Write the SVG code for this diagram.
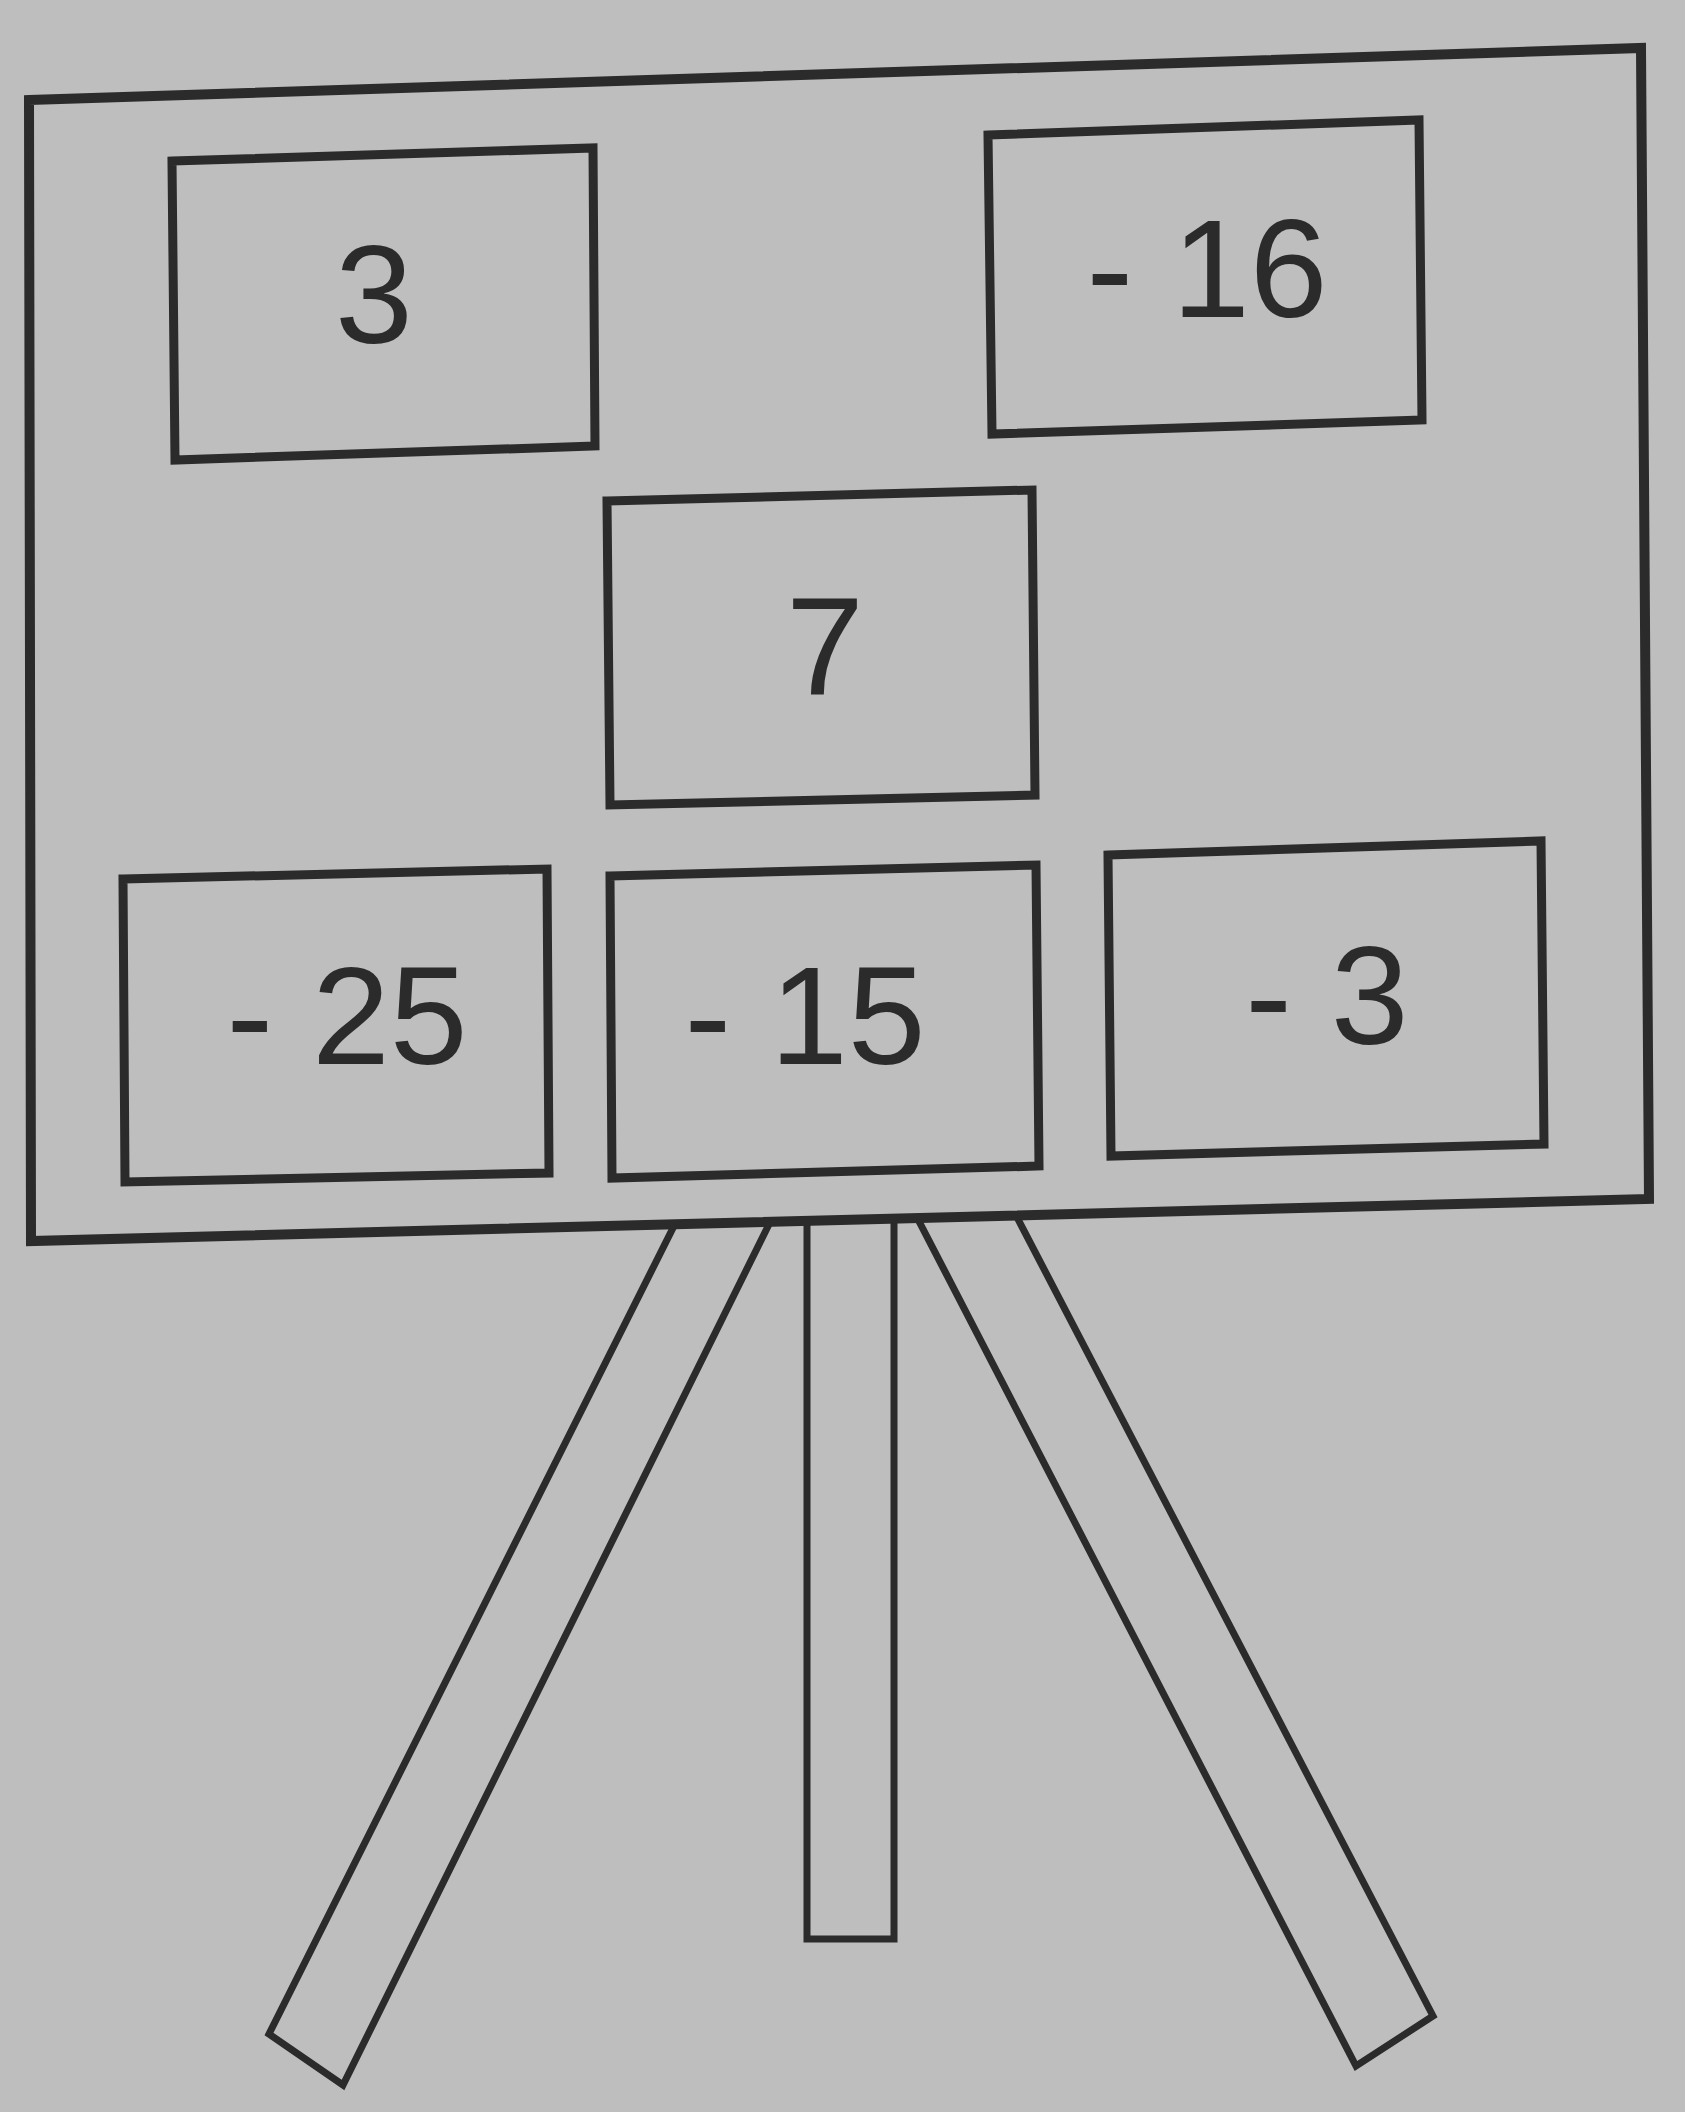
<svg xmlns="http://www.w3.org/2000/svg" width="1685" height="2112" viewBox="0 0 1685 2112">
<style>
.bg{fill:#bebebe}
.board{fill:#bebebe;stroke:#2b2b2b;stroke-width:10;stroke-linejoin:miter}
.box{fill:#bebebe;stroke:#2b2b2b;stroke-width:9;stroke-linejoin:miter}
.leg{fill:#bebebe;stroke:#2b2b2b;stroke-width:7;stroke-linejoin:miter}
.num{font-family:"Liberation Sans",Arial,sans-serif;font-size:140px;fill:#2b2b2b;text-anchor:middle}
</style>
<rect class="bg" x="0" y="0" width="1685" height="2112"/>
<g id="legs">
<polygon id="leg-left" class="leg" points="687,1200 781,1200 343,2085 269,2034"/>
<polygon id="leg-middle" class="leg" points="807,1200 894,1200 894,1939 807,1939"/>
<polygon id="leg-right" class="leg" points="908,1200 1008,1200 1433,2016 1356,2066"/>
</g>
<g id="board">
<polygon class="board" points="29,100 1641,48 1649,1199 31,1241"/>
</g>
<g id="node-3">
<polygon class="box" points="172,161 593,148 595,446 175,460"/>
<text class="num" x="374" y="343">3</text>
</g>
<g id="node-minus16">
<polygon class="box" points="988,135 1419,120 1422,420 992,434"/>
<text class="num" x="1207" y="317">- 16</text>
</g>
<g id="node-7">
<polygon class="box" points="607,501 1032,490 1035,795 610,805"/>
<text class="num" x="825" y="694">7</text>
</g>
<g id="node-minus25">
<polygon class="box" points="123,879 547,869 549,1173 125,1182"/>
<text class="num" x="347" y="1064">- 25</text>
</g>
<g id="node-minus15">
<polygon class="box" points="610,876 1036,865 1039,1166 612,1178"/>
<text class="num" x="805" y="1064">- 15</text>
</g>
<g id="node-minus3">
<polygon class="box" points="1108,855 1541,841 1544,1144 1111,1156"/>
<text class="num" x="1327" y="1044">- 3</text>
</g>
</svg>
